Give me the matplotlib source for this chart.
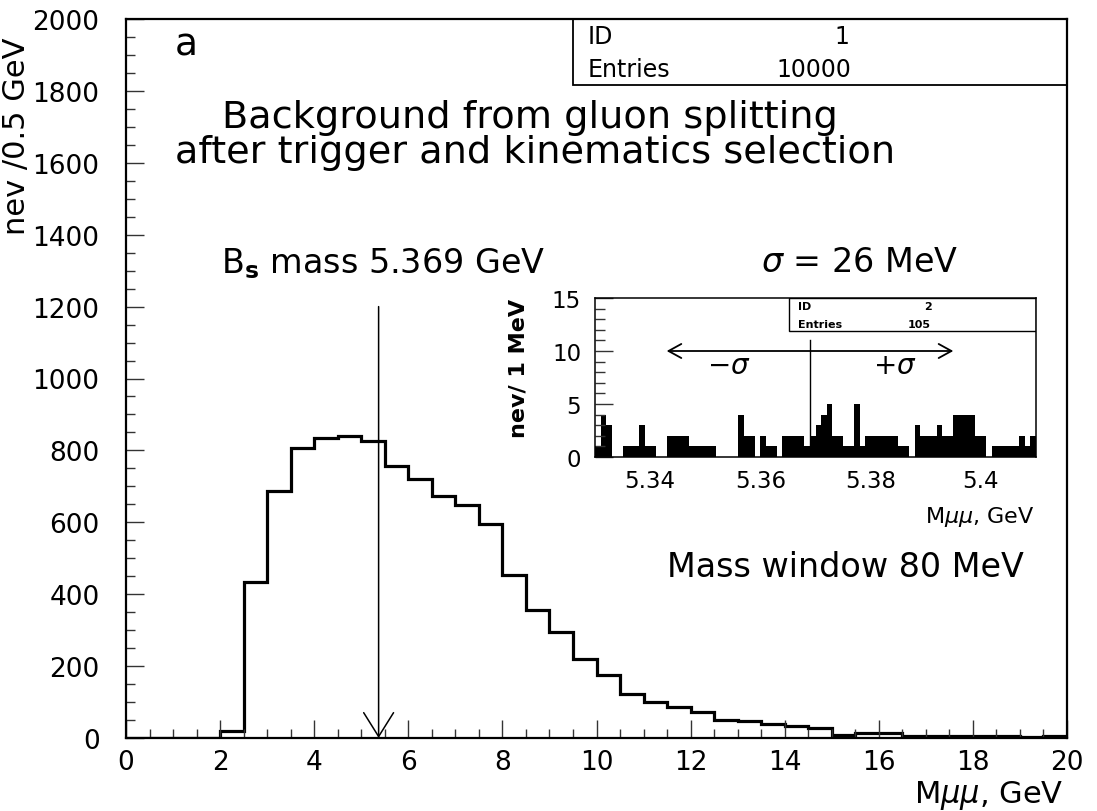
import numpy as np
import matplotlib
matplotlib.use("Agg")
import matplotlib.pyplot as plt
from matplotlib.ticker import MultipleLocator
from matplotlib.patches import Rectangle

# main histogram: nev / 0.5 GeV after trigger + kinematics selection
mass_edges = np.arange(0, 20.5, 0.5)
nev = [0, 0, 0, 0, 20, 435, 687, 808, 834, 840,
       827, 756, 720, 672, 649, 595, 453, 357, 296, 220,
       174, 123, 101, 87, 73, 50, 47, 40, 33, 29,
       8, 13, 13, 6, 6, 6, 5, 5, 2, 5]

# inset: nev / 1 MeV inside the 80 MeV mass window
win_edges = np.linspace(5.33, 5.41, 81)
win_nev = [1, 4, 3, 0, 0, 1, 1, 1, 3, 1,
           1, 0, 0, 2, 2, 2, 2, 1, 1, 1,
           1, 1, 0, 0, 0, 0, 4, 2, 2, 0,
           2, 1, 1, 0, 2, 2, 2, 2, 1, 2,
           3, 4, 5, 2, 2, 1, 1, 5, 1, 2,
           2, 2, 2, 2, 2, 1, 1, 0, 3, 2,
           2, 2, 3, 2, 2, 4, 4, 4, 4, 2,
           2, 0, 1, 1, 1, 1, 1, 2, 1, 2]

bs_mass = 5.369
sigma = 0.026
arrow_top = 1200
win_line_top = 11
win_arrow_y = 10

x_ticks = np.arange(0, 21, 2)
y_ticks = np.arange(0, 2001, 200)
win_yticks = [0, 5, 10, 15]
win_xticks = [5.34, 5.36, 5.38, 5.40]
win_xlabels = ["5.34", "5.36", "5.38", "5.4"]

W, H = 1097, 812
fig = plt.figure(figsize=(W / 100, H / 100), dpi=100)


def fx(x):
    return x / W


def fy(y):
    return 1 - y / H


# ---- main panel
ax = fig.add_axes([fx(126), fy(739), (1067 - 126) / W, (739 - 20) / H])
ax.stairs(nev, mass_edges, color="black", lw=2.3, baseline=0)
ax.set_xlim(0, 20)
ax.set_ylim(0, 2000)
ax.set_xticks(x_ticks)
ax.set_yticks(y_ticks)
ax.xaxis.set_minor_locator(MultipleLocator(0.5))
ax.yaxis.set_minor_locator(MultipleLocator(50))
ax.tick_params(which="both", direction="in", top=False, right=False,
               width=1.0, color="#333333")
ax.tick_params(which="major", length=13)
ax.tick_params(which="minor", length=6.5)
ax.tick_params(axis="x", which="major", labelsize=19, pad=8)
ax.tick_params(axis="y", which="major", labelsize=19, pad=19)
for s in ax.spines.values():
    s.set_linewidth(1.6)

# B_s mass marker
ax.annotate("", xy=(bs_mass, 0), xytext=(bs_mass, arrow_top),
            arrowprops=dict(arrowstyle="->,head_length=0.4,head_width=0.25",
                            mutation_scale=43, lw=1.1, color="black",
                            shrinkA=0, shrinkB=0))

# stats box
ax.add_patch(Rectangle((0.475, 0.908), 0.525, 0.092, transform=ax.transAxes,
                       fill=False, lw=1.3, color="black"))
fig.text(fx(588), fy(37), "ID", fontsize=17, va="center", ha="left")
fig.text(fx(849), fy(37), "1", fontsize=17, va="center", ha="right")
fig.text(fx(588), fy(70), "Entries", fontsize=17, va="center", ha="left")
fig.text(fx(851), fy(70), "10000", fontsize=17, va="center", ha="right")

fig.text(fx(186), fy(46), "a", fontsize=27, ha="center", va="center")
fig.text(fx(530), fy(128), "Background from gluon splitting",
         fontsize=27.5, ha="center", va="baseline")
fig.text(fx(535), fy(163), "after trigger and kinematics selection",
         fontsize=27.5, ha="center", va="baseline")
fig.text(fx(221), fy(273), r"B$_\mathbf{s}$ mass 5.369 GeV",
         fontsize=24, ha="left", va="baseline")
fig.text(fx(761), fy(272), r"$\sigma$ = 26 MeV",
         fontsize=24, ha="left", va="baseline")
fig.text(fx(667), fy(577), "Mass window 80 MeV",
         fontsize=24, ha="left", va="baseline")

fig.text(fx(1064), fy(803), r"M$\mu\mu$, GeV", fontsize=22,
         ha="right", va="baseline")
fig.text(fx(17), fy(136), "nev /0.5 GeV", fontsize=22, rotation=90,
         ha="center", va="center")

# ---- inset
axi = fig.add_axes([fx(595), fy(458), (1036 - 595) / W, (458 - 299) / H])
axi.stairs(win_nev, win_edges, fill=True, color="black")
axi.set_xlim(5.33, 5.41)
axi.set_ylim(0, 15)
axi.set_yticks(win_yticks)
axi.set_xticks(win_xticks)
axi.set_xticklabels(win_xlabels)
axi.yaxis.set_minor_locator(MultipleLocator(1))
axi.tick_params(which="both", direction="in", top=False, right=False,
                width=1.0, color="#333333")
axi.tick_params(axis="y", which="major", length=13, labelsize=16.5, pad=10)
axi.tick_params(axis="y", which="minor", length=7)
axi.tick_params(axis="x", which="major", length=0, labelsize=16.5, pad=9)
for s in axi.spines.values():
    s.set_linewidth(1.1)

axi.plot([bs_mass, bs_mass], [0, win_line_top], color="black", lw=1.0)
axi.annotate("", xy=(bs_mass - sigma, win_arrow_y),
             xytext=(bs_mass + sigma, win_arrow_y),
             arrowprops=dict(arrowstyle="<->,head_length=0.4,head_width=0.22",
                             mutation_scale=23, lw=1.3, color="black",
                             shrinkA=0, shrinkB=0))
axi.text(5.3543, 8.7, r"$-\sigma$", fontsize=20, ha="center", va="center")
axi.text(5.3844, 8.7, r"$+\sigma$", fontsize=20, ha="center", va="center")

axi.add_patch(Rectangle((0.44, 0.792), 0.56, 0.208, transform=axi.transAxes,
                        fill=False, lw=1.0, color="black"))
fig.text(fx(798), fy(307), "ID", fontsize=8, fontweight="bold",
         va="center", ha="left")
fig.text(fx(932), fy(307), "2", fontsize=8, fontweight="bold",
         va="center", ha="right")
fig.text(fx(798), fy(325), "Entries", fontsize=8, fontweight="bold",
         va="center", ha="left")
fig.text(fx(931), fy(325), "105", fontsize=8, fontweight="bold",
         va="center", ha="right")

fig.text(fx(1035), fy(523), r"M$\mu\mu$, GeV", fontsize=16,
         ha="right", va="baseline")
fig.text(fx(518), fy(368), "nev/ 1 MeV", fontsize=16, fontweight="bold",
         rotation=90, ha="center", va="center")

fig.savefig("out.png", dpi=100)
